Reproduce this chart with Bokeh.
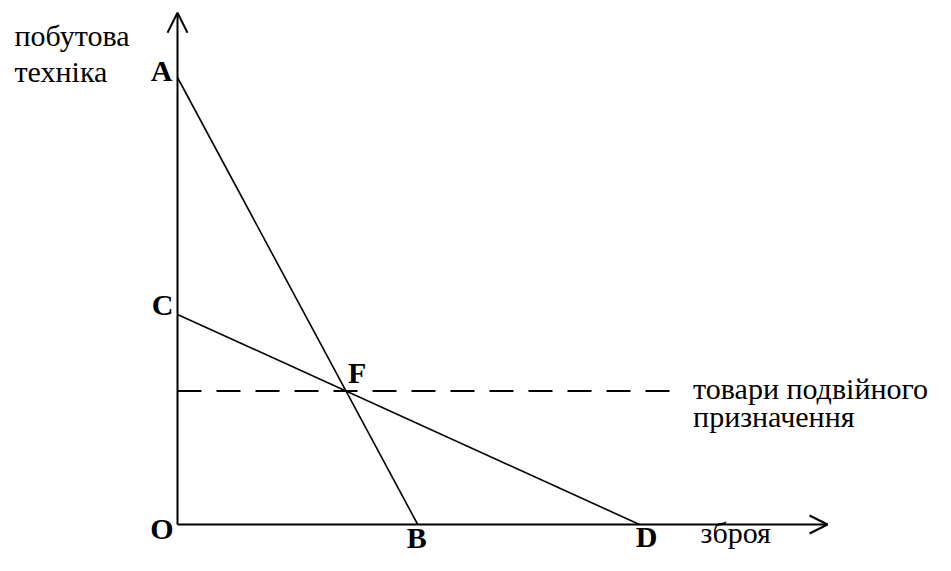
from bokeh.plotting import figure
from bokeh.models import Range1d, Arrow, OpenHead
from bokeh.core.properties import value
from bokeh.embed import file_html
from bokeh.resources import INLINE

# ---- data (abstract units) ----
ppf1_x = [0.0, 5.2]      # A -> B
ppf1_y = [10.0, 0.0]
ppf2_x = [0.0, 10.0]     # C -> D
ppf2_y = [4.7, 0.0]
axis_x_max = 14.07
axis_y_max = 11.45
dual_use_end_x = 10.9
point_names = ["A", "B", "C", "D", "O", "F"]
y_axis_title = ["побутова", "техніка"]
x_axis_title = ["зброя"]
dual_use_title = ["товари подвійного", "призначення"]

# intersection F of the two lines
b1 = (ppf1_y[1] - ppf1_y[0]) / (ppf1_x[1] - ppf1_x[0])
b2 = (ppf2_y[1] - ppf2_y[0]) / (ppf2_x[1] - ppf2_x[0])
fx = (ppf2_y[0] - ppf1_y[0]) / (b1 - b2)
fy = ppf1_y[0] + b1 * fx

W, H = 935, 555
sx, sy = 46.2, 44.7
x0 = -177 / sx
y0 = -(H - 524) / sy
p = figure(width=W, height=H, x_range=Range1d(x0, x0 + W / sx),
           y_range=Range1d(y0, y0 + H / sy), output_backend="svg",
           toolbar_location=None, min_border=0, x_axis_type=None, y_axis_type=None)
p.outline_line_color = None
p.background_fill_color = "white"

# axes with open arrow heads
p.add_layout(Arrow(end=OpenHead(size=20, line_width=2, line_color="black"),
                   x_start=0, y_start=0, x_end=0, y_end=axis_y_max,
                   line_width=2, line_color="black"))
p.add_layout(Arrow(end=OpenHead(size=18, line_width=2, line_color="black"),
                   x_start=0, y_start=0, x_end=axis_x_max, y_end=0,
                   line_width=2, line_color="black"))

# lines
p.line(ppf1_x, ppf1_y, line_color="black", line_width=1.6)
p.line(ppf2_x, ppf2_y, line_color="black", line_width=1.6)
p.line([0, dual_use_end_x], [fy, fy], line_color="black", line_width=2, line_dash="24 15")

serif = value("Liberation Serif")
fs = "30px"
dy = -11  # compensation for text baseline placement

# point letters
pt_x = [0, ppf1_x[1], 0, ppf2_x[1], 0, fx]
pt_y = [ppf1_y[0], 0, ppf2_y[0], 0, 0, fy]
pt_align = ["right", "center", "right", "center", "right", "left"]
pt_xo = [-5, -1, -4, 7, -4, 2]
pt_yo = [v + dy for v in [4, 24, 1, 23, 15, -8]]
p.text(x=pt_x, y=pt_y, text=point_names, text_font=serif, text_font_size=fs,
       text_font_style="bold", text_align=pt_align, text_baseline="alphabetic",
       x_offset=pt_xo, y_offset=pt_yo, text_color="black")

# axis titles
p.text(x=[0, 0], y=[axis_y_max, axis_y_max], text=y_axis_title, text_font=serif,
       text_font_size=fs, text_align="left", text_baseline="alphabetic",
       x_offset=[-163, -163], y_offset=[34 + dy, 70 + dy], text_color="black")
p.text(x=[axis_x_max], y=[0], text=x_axis_title, text_font=serif,
       text_font_size=fs, text_align="left", text_baseline="alphabetic",
       x_offset=-127, y_offset=19 + dy, text_color="black")
p.text(x=[dual_use_end_x, dual_use_end_x], y=[fy, fy], text=dual_use_title, text_font=serif,
       text_font_size=fs, text_align="left", text_baseline="alphabetic",
       x_offset=12, y_offset=[8 + dy, 36 + dy], text_color="black")

open("out.html", "w").write(file_html(p, INLINE))
